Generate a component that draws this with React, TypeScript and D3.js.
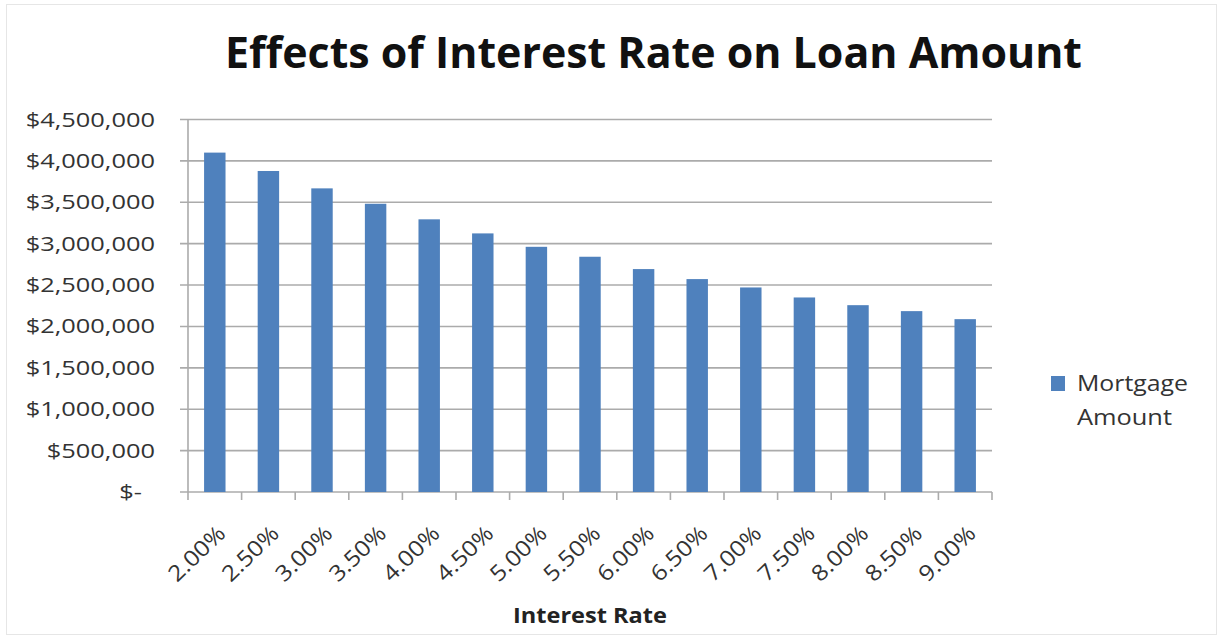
import React from "react";
import * as d3 from "d3";

const categories = ["2.00%", "2.50%", "3.00%", "3.50%", "4.00%", "4.50%", "5.00%", "5.50%", "6.00%", "6.50%", "7.00%", "7.50%", "8.00%", "8.50%", "9.00%"];
const mortgageAmount = [4100000, 3878000, 3668000, 3482000, 3294000, 3124000, 2962000, 2842000, 2693000, 2572000, 2471000, 2350000, 2257000, 2185000, 2088000];
const yTicks = [0, 500000, 1000000, 1500000, 2000000, 2500000, 3000000, 3500000, 4000000, 4500000];
const titleText = "Effects of Interest Rate on Loan Amount";
const xTitle = "Interest Rate";
const legendLines = ["Mortgage", "Amount"];

const W = 1224;
const H = 641;
const left = 188;
const right = 992;
const top = 119.5;
const bottom = 492;
const FONT = "'Open Sans', 'Liberation Sans', sans-serif";
const BAR = "#4f81bd";
const GRID = "#ababab";

const fmt = (v: number) => (v === 0 ? "$-" : "$" + d3.format(",")(v));

export default function App() {
  const x = d3.scaleBand<string>().domain(categories).range([left, right]).paddingInner(0.6).paddingOuter(0.3);
  const band = (right - left) / categories.length;
  const y = d3.scaleLinear().domain([0, 4500000]).range([bottom, top]);

  return (
    <svg width={W} height={H} style={{ position: "absolute", left: 0, top: 0, background: "#fff" }}>
      <rect x={6.5} y={4.5} width={1210} height={630} fill="#fff" stroke="#e6e6e6" strokeWidth={1} />
      <text x={653.5} y={68} textAnchor="middle" fontFamily={FONT} fontWeight={700} fontSize={43} fill="#111" textLength={857} lengthAdjust="spacingAndGlyphs">
        {titleText}
      </text>
      {yTicks.map((t) => (
        <g key={t}>
          <line x1={180} x2={right} y1={y(t)} y2={y(t)} stroke={GRID} strokeWidth={1.6} />
          <text
            transform={`translate(${t === 0 ? 142 : 155},${y(t) + 7}) scale(1.27,1)`}
            textAnchor="end"
            fontFamily={FONT}
            fontSize={20}
            fill="#333"
          >
            {fmt(t)}
          </text>
        </g>
      ))}
      <line x1={left} x2={left} y1={top} y2={bottom} stroke={GRID} strokeWidth={1.6} />
      {d3.range(categories.length + 1).map((i) => (
        <line key={i} x1={left + i * band} x2={left + i * band} y1={bottom} y2={bottom + 8} stroke={GRID} strokeWidth={1.6} />
      ))}
      {categories.map((c, i) => (
        <rect key={c} x={x(c)} y={y(mortgageAmount[i])} width={x.bandwidth()} height={bottom - y(mortgageAmount[i])} fill={BAR} />
      ))}
      {categories.map((c) => {
        const cx = (x(c) as number) + x.bandwidth() / 2;
        return (
          <text
            key={c}
            transform={`translate(${cx + 12},${535}) rotate(-44) scale(1.12,1)`}
            textAnchor="end"
            fontFamily={FONT}
            fontSize={22}
            fill="#333"
          >
            {c}
          </text>
        );
      })}
      <text x={590} y={623} textAnchor="middle" fontFamily={FONT} fontWeight={700} fontSize={21} fill="#222" textLength={154} lengthAdjust="spacingAndGlyphs">
        {xTitle}
      </text>
      <rect x={1051} y={376} width={14} height={15} fill={BAR} />
      <text x={1077} y={391} fontFamily={FONT} fontSize={21} fill="#333" textLength={111} lengthAdjust="spacingAndGlyphs">
        {legendLines[0]}
      </text>
      <text x={1077} y={425} fontFamily={FONT} fontSize={21} fill="#333" textLength={95} lengthAdjust="spacingAndGlyphs">
        {legendLines[1]}
      </text>
    </svg>
  );
}
